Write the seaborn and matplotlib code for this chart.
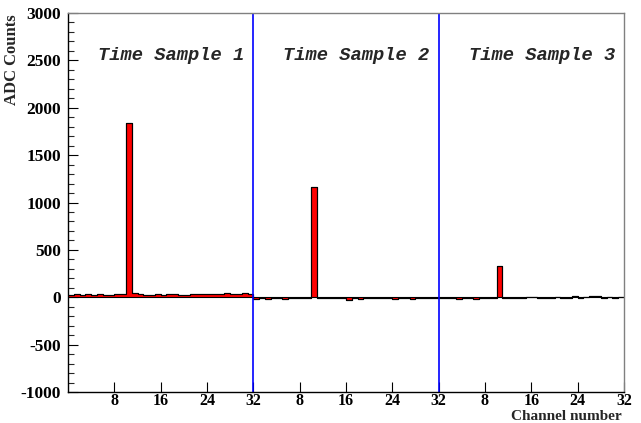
import numpy as np
import matplotlib
matplotlib.use("Agg")
import matplotlib.pyplot as plt
import seaborn as sns
import pandas as pd
from matplotlib.ticker import MultipleLocator

sample1 = [25, 30, 28, 30, 25, 35, 20, 28, 30, 35, 1840, 40, 30, 28, 25, 30,
           28, 32, 30, 25, 28, 35, 30, 32, 35, 38, 35, 40, 35, 38, 40, 38]
sample2 = [-15, -10, -20, -10, -12, -15, -10, -12, -10, -8, 1160, -5, -8, -10, -8, -10,
           -25, -10, -15, -5, -10, -8, -10, -8, -15, -5, -8, -20, -5, -10, -5, -8]
sample3 = [-5, -8, -5, -15, -5, -8, -20, -10, -5, -3, 330, -3, -5, -5, -8, 5,
           5, -3, -5, -10, 5, -8, -5, 10, -5, 5, 15, 10, -5, 5, -5, 0]
sample_labels = ["Time Sample 1", "Time Sample 2", "Time Sample 3"]
tick_labels = ["8", "16", "24", "32"] * 3

values = sample1 + sample2 + sample3
df = pd.DataFrame({"bin": np.arange(len(values)) + 0.5, "adc": values})

sns.set_style("white")
plt.rcParams["axes.unicode_minus"] = False
fig = plt.figure(figsize=(6.41, 4.23), dpi=100)
ax = fig.add_axes([68/641, 31/423, 556/641, 379/423])

sns.histplot(data=df, x="bin", weights="adc", bins=96, binrange=(0, 96),
             element="step", fill=True, color="red", alpha=1.0,
             edgecolor="black", linewidth=0.8, ax=ax)
ax.stairs(values, np.arange(97), color="black", linewidth=0.8, baseline=None)

ax.set_xlim(0, 96)
ax.set_ylim(-1000, 3000)
ax.axvline(32, color="#0000ff", linewidth=1.2)
ax.axvline(64, color="#0000ff", linewidth=1.2)

serif = ["Liberation Serif", "DejaVu Serif"]
ax.set_xticks([8, 16, 24, 32, 40, 48, 56, 64, 72, 80, 88, 96])
ax.set_xticklabels(tick_labels, fontfamily=serif, fontweight="bold", fontsize=11.5)
ax.yaxis.set_major_locator(MultipleLocator(500))
ax.yaxis.set_minor_locator(MultipleLocator(100))
for lab in ax.get_yticklabels():
    lab.set_fontfamily(serif)
    lab.set_fontweight("bold")
    lab.set_fontsize(12.5)
ax.tick_params(axis="both", which="major", direction="in", length=7, width=0.8,
               left=True, bottom=True, colors="black")
ax.tick_params(axis="y", which="major", pad=5)
ax.tick_params(axis="y", which="minor", direction="in", length=4, width=0.8, left=True)
ax.tick_params(axis="x", pad=1)

for s in ["left", "bottom"]:
    ax.spines[s].set_color("black")
    ax.spines[s].set_linewidth(1.0)
for s in ["top", "right"]:
    ax.spines[s].set_color("#808080")
    ax.spines[s].set_linewidth(1.0)

ax.set_xlabel("")
ax.set_ylabel("")
fig.text(12/641, 1 - 14/423, "ADC Counts", rotation=90, ha="center", va="top",
         fontfamily=serif, fontweight="bold", fontsize=12)
fig.text(622/641, 0.5/423, "Channel number", ha="right", va="bottom",
         fontfamily=serif, fontweight="bold", fontsize=11)

mono = ["Liberation Mono", "DejaVu Sans Mono"]
for i, lab in enumerate(sample_labels):
    ax.text(17.8 + 32 * i, 2550, lab, ha="center", va="center", fontfamily=mono,
            fontweight="bold", fontstyle="italic", fontsize=13.5)

fig.savefig("out.png", dpi=100)
